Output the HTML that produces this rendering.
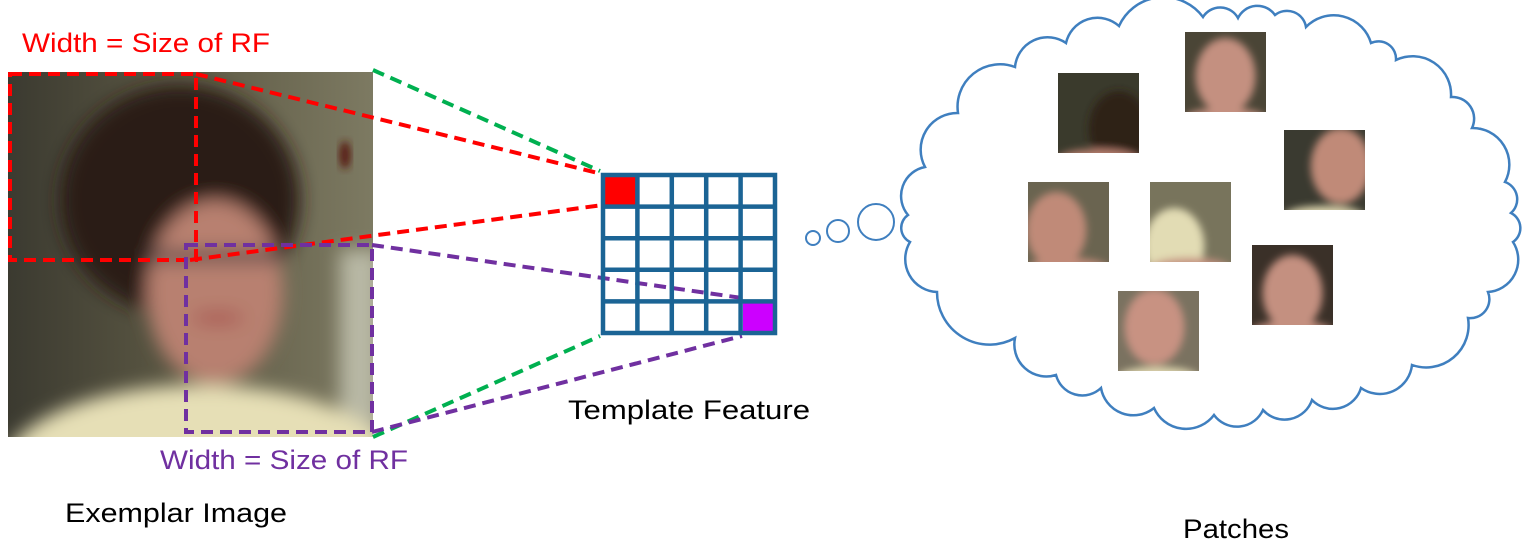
<!DOCTYPE html>
<html><head><meta charset="utf-8"><style>
html,body{margin:0;padding:0;background:#fff;width:1532px;height:547px;overflow:hidden}
svg text{font-family:"Liberation Sans",sans-serif}
</style></head><body>
<svg width="1532" height="547" viewBox="0 0 1532 547" xmlns="http://www.w3.org/2000/svg">
<defs>
<filter id="bl" x="-20%" y="-20%" width="140%" height="140%"><feGaussianBlur stdDeviation="9"/></filter>
<filter id="bl2" x="-20%" y="-20%" width="140%" height="140%"><feGaussianBlur stdDeviation="4"/></filter>
<clipPath id="pc"><rect x="8" y="72" width="365" height="365"/></clipPath>
<linearGradient id="bg" x1="0" y1="0" x2="1" y2="0"><stop offset="0" stop-color="#3b3a30"/><stop offset="0.5" stop-color="#5e5a45"/><stop offset="1" stop-color="#7d7a62"/></linearGradient>
</defs>
<g clip-path="url(#pc)">
<rect x="8" y="72" width="365" height="365" fill="url(#bg)"/>
<g filter="url(#bl)">
<rect x="340" y="250" width="40" height="190" fill="#b8b8a4"/>
<ellipse cx="180" cy="200" rx="120" ry="115" fill="#2a1e15"/>
<ellipse cx="215" cy="292" rx="68" ry="92" fill="#b88070"/>
<ellipse cx="200" cy="475" rx="200" ry="90" fill="#e6dfb6"/>
<rect x="150" y="250" width="130" height="12" fill="#5a4a4a"/>
<ellipse cx="218" cy="318" rx="26" ry="6" fill="#a85250"/>
</g>
<ellipse cx="345" cy="155" rx="6" ry="14" fill="#5a2318" filter="url(#bl2)"/>
</g>
<g fill="none" stroke-width="4" stroke-dasharray="12,7">
<rect x="10" y="74" width="186" height="186" stroke="#ff0000"/>
<line x1="196" y1="74" x2="598" y2="173" stroke="#ff0000"/>
<line x1="190" y1="260" x2="603" y2="205" stroke="#ff0000"/>
<line x1="373" y1="70" x2="600" y2="171" stroke="#00b050"/>
<line x1="373" y1="437" x2="600" y2="336" stroke="#00b050"/>
<rect x="186" y="245" width="186" height="187" stroke="#7030a0"/>
<line x1="372" y1="245" x2="742" y2="298" stroke="#7030a0"/>
<line x1="372" y1="432" x2="742" y2="336" stroke="#7030a0"/>
</g>
<rect x="604" y="176" width="33" height="30" fill="#ff0000"/>
<rect x="743" y="302" width="32" height="30" fill="#cc00ff"/>
<g stroke="#1b6495" stroke-width="4.5" fill="none">
<rect x="603" y="175" width="172" height="158"/>
<line x1="637.4" y1="175" x2="637.4" y2="333"/><line x1="671.8" y1="175" x2="671.8" y2="333"/>
<line x1="706.2" y1="175" x2="706.2" y2="333"/><line x1="740.6" y1="175" x2="740.6" y2="333"/>
<line x1="603" y1="206.6" x2="775" y2="206.6"/><line x1="603" y1="238.2" x2="775" y2="238.2"/>
<line x1="603" y1="269.8" x2="775" y2="269.8"/><line x1="603" y1="301.4" x2="775" y2="301.4"/>
</g>
<g stroke="#3f7fbf" stroke-width="2" fill="#fff">
<circle cx="813" cy="238" r="7"/><circle cx="838" cy="231" r="11"/><circle cx="876" cy="222" r="18"/>
<path id="cloud" stroke-width="2.5"/>
</g>
<g id="patches"></g>
<text x="22" y="52" font-size="27" fill="#ff0000" textLength="248" lengthAdjust="spacingAndGlyphs">Width = Size of RF</text>
<text x="160" y="469" font-size="27" fill="#7030a0" textLength="248" lengthAdjust="spacingAndGlyphs">Width = Size of RF</text>
<text x="65" y="522" font-size="27" fill="#000" textLength="222" lengthAdjust="spacingAndGlyphs">Exemplar Image</text>
<text x="568" y="419" font-size="27" fill="#000" textLength="242" lengthAdjust="spacingAndGlyphs">Template Feature</text>
<text x="1183" y="538" font-size="27" fill="#000" textLength="106" lengthAdjust="spacingAndGlyphs">Patches</text>
</svg>
<script>
var P=[[1066,43],[1119,26],[1203,17],[1238,18],[1275,15],[1306,27],[1371,43],[1396,60],[1451,97],[1472,128],[1505,182],[1511,213],[1513,242],[1488,292],[1468,318],[1412,365],[1361,388],[1312,400],[1263,410],[1214,415],[1154,408],[1101,388],[1056,375],[1015,338],[937,292],[910,242],[908,215],[925,167],[958,113],[1015,67]];
var d="M"+P[0].join(",");
for(var i=1;i<=P.length;i++){var a=P[i-1],b=P[i%P.length];var r=Math.hypot(b[0]-a[0],b[1]-a[1])*0.58;d+=" A"+r+","+r+" 0 0 1 "+b.join(",");}
document.getElementById("cloud").setAttribute("d",d+"Z");
var pats=[[1058,73,"#3a3a2c","#2e2218",0.75,0.7,"#b88070"],[1185,32,"#4a4536","#c49080",0.5,0.55,"#c49080"],[1284,130,"#3a3a30","#c08a78",0.7,0.45,"#e0d8b0"],[1028,182,"#6a6450","#c08a78",0.35,0.6,"#c08a78"],[1150,182,"#78745c","#e2dcb4",0.3,0.8,"#c49080"],[1252,245,"#3a3028","#c49080",0.5,0.6,"#c49080"],[1118,291,"#7a7260","#c89282",0.45,0.45,"#e0d8b0"]];
var g=document.getElementById("patches");
pats.forEach(function(p){
 var s='<clipPath id="c'+p[0]+'"><rect x="'+p[0]+'" y="'+p[1]+'" width="81" height="80"/></clipPath><g clip-path="url(#c'+p[0]+')"><rect x="'+p[0]+'" y="'+p[1]+'" width="81" height="80" fill="'+p[2]+'"/><g filter="url(#bl2)"><ellipse cx="'+(p[0]+81*p[4])+'" cy="'+(p[1]+80*p[5])+'" rx="30" ry="38" fill="'+p[3]+'"/><ellipse cx="'+(p[0]+40)+'" cy="'+(p[1]+86)+'" rx="40" ry="10" fill="'+p[6]+'"/></g></g>';
 g.insertAdjacentHTML("beforeend",s);
});
</script>
</body></html>
